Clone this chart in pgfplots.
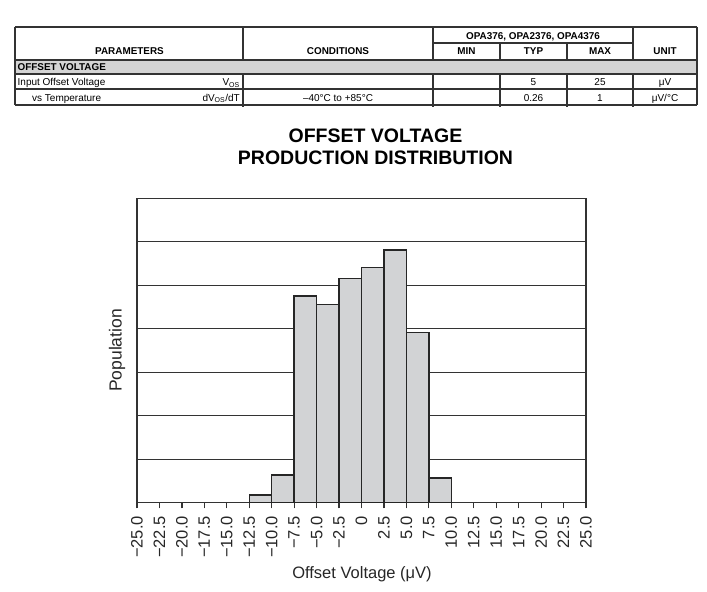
\documentclass[border=0pt]{standalone}
\usepackage{fontspec}
\setmainfont{Liberation Sans}
\usepackage{pgfplots}
\pgfplotsset{compat=1.18}
\definecolor{barfill}{HTML}{D2D3D5}
\definecolor{rowgray}{HTML}{D4D4D4}
\definecolor{lin}{HTML}{333333}
\newcommand{\tabb}{\fontsize{9.9bp}{11bp}\selectfont\bfseries}
\newcommand{\tabr}{\fontsize{10bp}{11bp}\selectfont}
\begin{document}
\begin{tikzpicture}
\path[use as bounding box] (0,0) rectangle (707bp,592bp);
% ---- table ----
\fill[rowgray] (15bp,532bp) rectangle (697bp,518bp);
\draw[lin, line width=1.7bp] (15bp,565bp) -- (697bp,565bp);
\draw[lin, line width=1.1bp] (433bp,549bp) -- (633bp,549bp);
\draw[lin, line width=1.4bp] (15bp,532bp) -- (697bp,532bp);
\draw[lin, line width=1.1bp] (15bp,518bp) -- (697bp,518bp);
\draw[lin, line width=1.1bp] (15bp,503bp) -- (697bp,503bp);
\draw[lin, line width=1.1bp] (15bp,487bp) -- (697bp,487bp);
% outer verticals
\draw[lin, line width=1.1bp] (15bp,565bp) -- (15bp,487bp);
\draw[lin, line width=1.1bp] (697bp,565bp) -- (697bp,487bp);
% header verticals
\foreach \x in {243,433,633} {\draw[lin, line width=1.1bp] (\x bp,565bp) -- (\x bp,532bp);}
\foreach \x in {500,567} {\draw[lin, line width=1.1bp] (\x bp,549bp) -- (\x bp,532bp);}
% body verticals
\foreach \x in {243,433,500,567,633} {\draw[lin, line width=1.1bp] (\x bp,518bp) -- (\x bp,485bp);}
% header text
\node[anchor=base, font=\tabb, inner sep=0pt] at (533bp,552.5bp) {OPA376, OPA2376, OPA4376};
\node[anchor=base, font=\tabb, inner sep=0pt] at (129.5bp,537bp) {PARAMETERS};
\node[anchor=base, font=\tabb, inner sep=0pt] at (338bp,537bp) {CONDITIONS};
\node[anchor=base, font=\tabb, inner sep=0pt] at (466.5bp,537bp) {MIN};
\node[anchor=base, font=\tabb, inner sep=0pt] at (533.5bp,537bp) {TYP};
\node[anchor=base, font=\tabb, inner sep=0pt] at (600bp,537bp) {MAX};
\node[anchor=base, font=\tabb, inner sep=0pt] at (665bp,537bp) {UNIT};
\node[anchor=base west, font=\tabb, inner sep=0pt] at (17.5bp,521.5bp) {OFFSET VOLTAGE};
% row 1
\node[anchor=base west, font=\tabr, inner sep=0pt] at (17.5bp,506bp) {Input Offset Voltage};
\node[anchor=base east, font=\tabr, inner sep=0pt] at (240bp,506bp) {V\textsubscript{OS}};
\node[anchor=base, font=\tabr, inner sep=0pt] at (533.5bp,506bp) {5};
\node[anchor=base, font=\tabr, inner sep=0pt] at (600bp,506bp) {25};
\node[anchor=base, font=\tabr, inner sep=0pt] at (665bp,506bp) {μV};
% row 2
\node[anchor=base west, font=\tabr, inner sep=0pt] at (32bp,490.5bp) {vs Temperature};
\node[anchor=base east, font=\tabr, inner sep=0pt] at (240bp,490.5bp) {dV\textsubscript{OS}/dT};
\node[anchor=base, font=\tabr, inner sep=0pt] at (338bp,490.5bp) {–40°C to +85°C};
\node[anchor=base, font=\tabr, inner sep=0pt] at (533.5bp,490.5bp) {0.26};
\node[anchor=base, font=\tabr, inner sep=0pt] at (600bp,490.5bp) {1};
\node[anchor=base, font=\tabr, inner sep=0pt] at (665bp,490.5bp) {μV/°C};
% ---- chart ----
\begin{axis}[
  at={(137bp,89.5bp)}, anchor=south west,
  scale only axis, width=449bp, height=304bp,
  xmin=-25, xmax=25, ymin=0, ymax=7,
  axis line style={draw=lin, line width=1.6bp},
  xtick={-25,-22.5,...,25},
  xticklabels={−25.0,−22.5,−20.0,−17.5,−15.0,−12.5,−10.0,−7.5,−5.0,−2.5,0,2.5,5.0,7.5,10.0,12.5,15.0,17.5,20.0,22.5,25.0},
  xtick pos=bottom,
  tick align=outside,
  major tick length=6bp,
  x tick style={draw=lin, line width=1.2bp},
  x tick label style={rotate=90, anchor=east, font=\fontsize{16.5bp}{18bp}\selectfont, text=black!85, inner sep=0pt},
  xticklabel shift=7.5bp,
  ytick={1,2,3,4,5,6}, yticklabels={}, y tick style={draw=none},
  ymajorgrids, grid style={draw=lin, line width=0.9bp},
  clip=false,
]
\addplot[ybar interval, fill=barfill, draw=black!85, line width=1.5bp] coordinates {
  (-12.5,0.17) (-10,0.63) (-7.5,4.75) (-5,4.56) (-2.5,5.16) (0,5.41) (2.5,5.81) (5,3.91) (7.5,0.56) (10,0.56)};
\node[rotate=90, anchor=base, font=\fontsize{17.5bp}{20bp}\selectfont, text=black!85, inner sep=0pt] at (axis description cs:-0.0345,0.5) {Population};
\end{axis}
\node[anchor=base, align=center, font=\fontsize{19.5bp}{22.7bp}\selectfont\bfseries, inner sep=0pt] at (375.5bp,427bp) {OFFSET VOLTAGE\\PRODUCTION DISTRIBUTION};
\node[anchor=base, font=\fontsize{16.5bp}{18bp}\selectfont, text=black!85, inner sep=0pt] at (362bp,13.7bp) {Offset Voltage (μV)};
\end{tikzpicture}
\end{document}
